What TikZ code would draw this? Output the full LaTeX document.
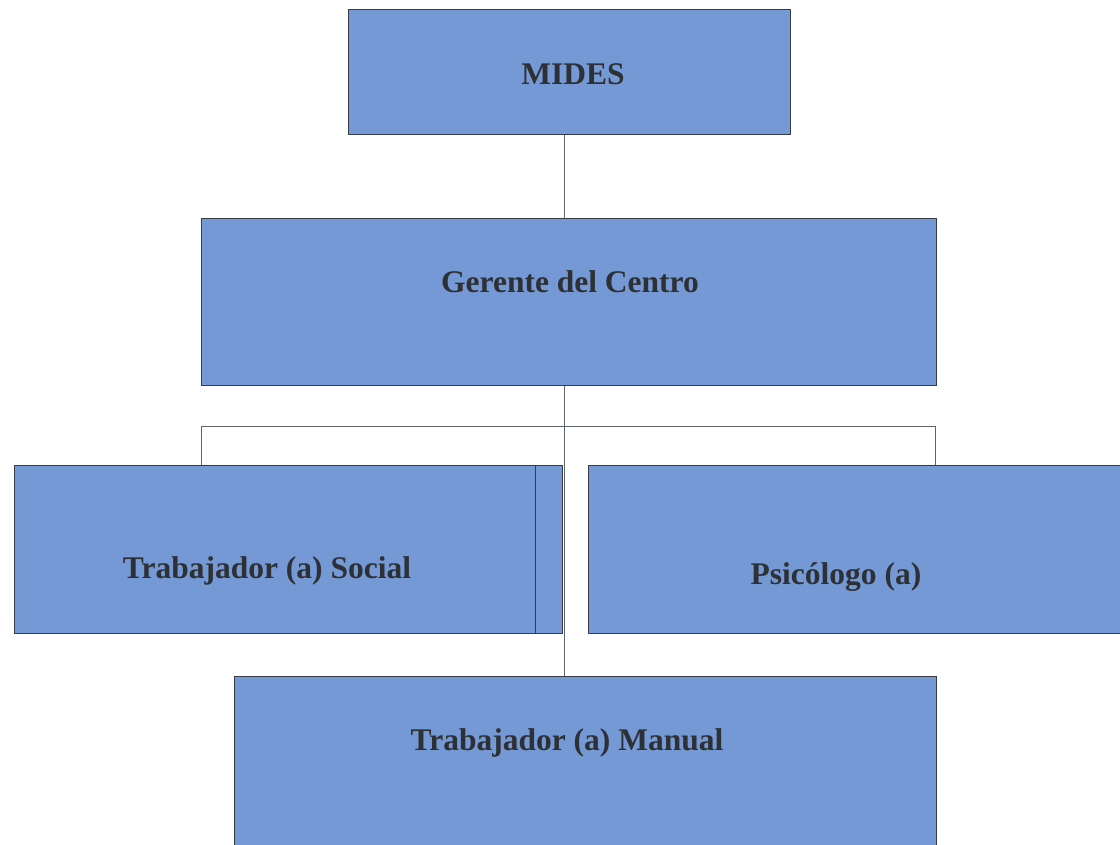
\documentclass[tikz,border=0pt]{standalone}
\usepackage{fontspec}
\setmainfont{Liberation Serif}
\definecolor{boxblue}{RGB}{116,153,213}
\definecolor{boxline}{RGB}{55,60,70}
\definecolor{conline}{RGB}{95,100,110}
\definecolor{txt}{RGB}{45,48,52}
\begin{document}
\begin{tikzpicture}[x=1pt,y=-1pt,
  orgbox/.style={draw=boxline,line width=1pt,fill=boxblue,rectangle,inner sep=0pt},
  lbl/.style={text=txt,font=\fontsize{31.5}{36}\selectfont\bfseries,inner sep=0pt,anchor=center},
  con/.style={draw=conline,line width=1pt}]
\useasboundingbox (0,0) rectangle (1120,845);
\clip (0,0) rectangle (1120,845);
% boxes
\node[orgbox,minimum width=442pt,minimum height=125pt] (mides) at (569,72.5) {};
\node[orgbox,minimum width=735pt,minimum height=166pt] (gerente) at (568.5,302) {};
\node[orgbox,minimum width=521pt,minimum height=168pt] (social) at (274.5,549) {};
\node[orgbox,minimum width=27pt,minimum height=168pt] (strip) at (548.5,549) {};
\node[orgbox,minimum width=545pt,minimum height=168pt] (psico) at (860.5,549) {};
\node[orgbox,minimum width=702pt,minimum height=190pt] (manual) at (585,771) {};
% labels
\node[lbl] (tmides) at (573,74) {MIDES};
\node[lbl] (tgerente) at (570,282) {Gerente del Centro};
\node[lbl] (tsocial) at (267,571) {Trabajador (a) Social};
\node[lbl] (tpsico) at (836,577) {Psicólogo (a)};
\node[lbl] (tmanual) at (567,743) {Trabajador (a) Manual};
% connectors
\coordinate (trunk) at (564,0);
\coordinate (bl) at (201,426);
\coordinate (br) at (935,426);
\draw[con] (mides.south -| trunk) -- (gerente.north -| trunk);
\draw[con] (gerente.south -| trunk) -- (manual.north -| trunk);
\draw[con] (bl) -- (br);
\draw[con] (bl) -- (social.north -| bl);
\draw[con] (br) -- (psico.north -| br);
\end{tikzpicture}
\end{document}
